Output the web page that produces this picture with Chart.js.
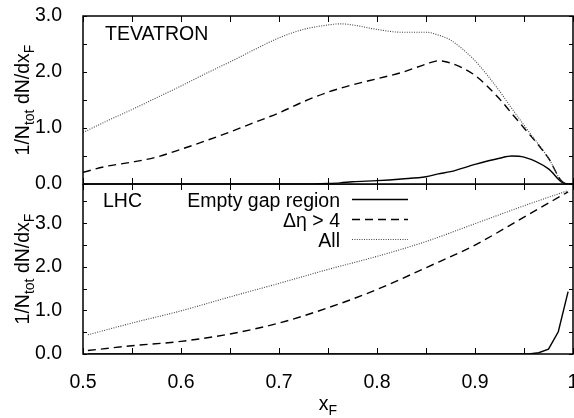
<!DOCTYPE html>
<html><head><meta charset="utf-8">
<script src="https://cdn.jsdelivr.net/npm/chart.js@4.4.1/dist/chart.umd.min.js"></script>
<style>
html,body{margin:0;padding:0;background:#fff;}
#wrap{position:relative;width:574px;height:418px;overflow:hidden;background:#fff;}
canvas{position:absolute;left:0;}
#c1{top:0;}
#c2{top:184px;}
</style></head><body>
<div id="wrap"><canvas id="c1" width="574" height="200"></canvas><canvas id="c2" width="574" height="234"></canvas></div>
<script>
// ---------- data ----------
const seriesNames = ['Empty gap region', 'Δη > 4', 'All'];
const panelNames = ['TEVATRON', 'LHC'];

const xTickMarks = [0.5,0.55,0.6,0.65,0.7,0.75,0.8,0.85,0.9,0.95,1.0];
const xLabelVals = [0.5,0.6,0.7,0.8,0.9,1.0];
const xLabels = ['0.5','0.6','0.7','0.8','0.9','1'];

const tevYTickMarks = [0,0.5,1,1.5,2,2.5,3];
const lhcYTickMarks = [0,0.5,1,1.5,2,2.5,3,3.5];
const yLabelVals = [0,1,2,3];
const yLabels = ['0.0','1.0','2.0','3.0'];

// TEVATRON panel
const tevX    = [0.5,0.525,0.55,0.575,0.6,0.625,0.65,0.675,0.7,0.725,0.75,0.7625,0.775,0.8,0.825,0.85,0.8625,0.875,0.9,0.925,0.9375,0.95,0.975,0.99,1.0];
const tevAll  = [0.92,1.13,1.33,1.54,1.75,1.97,2.18,2.40,2.61,2.76,2.84,2.86,2.84,2.76,2.71,2.71,2.66,2.57,2.20,1.66,1.35,1.05,0.46,0.03,0];
const tevDeta = [0.21,0.32,0.39,0.48,0.62,0.77,0.93,1.10,1.27,1.47,1.64,1.71,1.77,1.88,1.99,2.14,2.20,2.16,1.94,1.52,1.26,1.00,0.46,0.03,0];
const tevGap  = [0,0,0,0,0,0,0,0,0,0,0.01,0.02,0.04,0.06,0.09,0.13,0.18,0.22,0.35,0.46,0.50,0.48,0.27,0.02,0];

// LHC panel
const lhcX    = [0.505,0.55,0.6,0.65,0.7,0.75,0.8,0.85,0.9,0.95,0.995];
const lhcAll  = [0.44,0.71,0.99,1.31,1.62,1.94,2.24,2.58,2.99,3.40,3.75];
const lhcDeta = [0.08,0.19,0.29,0.46,0.71,1.06,1.48,1.98,2.50,3.14,3.72];
const lhcGapX = [0.505,0.955,0.965,0.975,0.985,0.995];
const lhcGap  = [0,0,0.03,0.11,0.51,1.43];

// ---------- helpers ----------
const FAM = "'Liberation Sans', Arial, Helvetica, sans-serif";
const FS = 19.5;
Chart.defaults.font.family = FAM;
Chart.defaults.font.size = FS;
Chart.defaults.color = '#000';

const pts = (xs, ys) => xs.map((x, i) => ({x, y: ys[i]}));
const styles = [
  {borderColor:'#000', borderWidth:1.4, borderDash:[]},
  {borderColor:'#000', borderWidth:1.4, borderDash:[8,5]},
  {borderColor:'#444', borderWidth:1.1, borderDash:[1,1.4]}
];
function ds(label, data, st, tension) {
  return Object.assign({label, data, pointRadius:0, fill:false,
    cubicInterpolationMode: tension ? 'monotone' : 'default', tension: 0}, st);
}

function drawRich(ctx, segs, x, y, size, align) {
  const big = size + 'px ' + FAM, small = (size * 0.72) + 'px ' + FAM;
  let w = 0;
  for (const s of segs) { ctx.font = s.sub ? small : big; w += ctx.measureText(s.t).width; }
  let cx = align === 'center' ? x - w / 2 : x;
  ctx.textAlign = 'left'; ctx.textBaseline = 'alphabetic';
  for (const s of segs) {
    ctx.font = s.sub ? small : big;
    ctx.fillText(s.t, cx, y + (s.sub ? size * 0.26 : 0));
    cx += ctx.measureText(s.t).width;
  }
}
const yTitle = [{t:'1/N'},{t:'tot',sub:true},{t:' dN/dx'},{t:'F',sub:true}];
const xTitle = [{t:'x'},{t:'F',sub:true}];

const deco = {
  id: 'deco',
  afterDraw(chart, args, o) {
    const ctx = chart.ctx, a = chart.chartArea;
    const xs = chart.scales.x, ys = chart.scales.y;
    ctx.save();
    ctx.strokeStyle = '#000'; ctx.fillStyle = '#000';
    ctx.lineWidth = 1; ctx.setLineDash([]);
    ctx.beginPath();
    for (const v of xTickMarks) {
      const px = Math.round(xs.getPixelForValue(v)) + 0.5;
      ctx.moveTo(px, a.bottom); ctx.lineTo(px, a.bottom - 6);
      ctx.moveTo(px, a.top); ctx.lineTo(px, a.top + 6);
    }
    for (const v of o.yTicks) {
      const py = Math.round(ys.getPixelForValue(v)) + 0.5;
      ctx.moveTo(a.left, py); ctx.lineTo(a.left + 4, py);
      ctx.moveTo(a.right, py); ctx.lineTo(a.right - 4, py);
    }
    ctx.stroke();
    ctx.lineWidth = 1.5;
    ctx.strokeRect(a.left, a.top, a.right - a.left, a.bottom - a.top);

    // y-axis title (rotated)
    ctx.save();
    ctx.translate(28.5, (a.top + a.bottom) / 2);
    ctx.rotate(-Math.PI / 2);
    drawRich(ctx, yTitle, 0, 0, FS, 'center');
    ctx.restore();

    // panel label
    ctx.font = FS + 'px ' + FAM; ctx.textAlign = 'left'; ctx.textBaseline = 'alphabetic';
    ctx.fillText(o.panel, a.left + o.panelDx, a.top + o.panelDy);

    if (o.legend) {
      const dsets = chart.data.datasets;
      // legend order: gap, deta, all
      const order = [2, 1, 0];
      order.forEach((di, row) => {
        const d = dsets[di];
        const base = a.top + 23 + row * 20;
        ctx.font = FS + 'px ' + FAM; ctx.textAlign = 'right'; ctx.fillStyle = '#000';
        ctx.fillText(d.label, 340, base);
        ctx.beginPath();
        ctx.strokeStyle = d.borderColor; ctx.lineWidth = d.borderWidth;
        ctx.setLineDash(d.borderDash || []);
        ctx.moveTo(352, base - 7.5); ctx.lineTo(408, base - 7.5);
        ctx.stroke();
        ctx.setLineDash([]);
      });
    }
    if (o.xTitle) {
      ctx.fillStyle = '#000';
      drawRich(ctx, xTitle, (a.left + a.right) / 2, a.bottom + 56, FS, 'center');
    }
    ctx.restore();
  }
};

function yScale(max) {
  return {
    type: 'linear', min: 0, max: max,
    grid: {display: false}, border: {display: false},
    afterBuildTicks: s => { s.ticks = yLabelVals.map(v => ({value: v})); },
    ticks: {padding: 13, callback: (v, i) => yLabels[i]},
    afterFit: s => { s.width = 83; s.paddingTop = 0; s.paddingBottom = 0; }
  };
}

// ---------- TEVATRON chart ----------
new Chart(document.getElementById('c1'), {
  type: 'line',
  data: {datasets: [
    ds(seriesNames[2], pts(tevX, tevAll), styles[2], true),
    ds(seriesNames[1], pts(tevX, tevDeta), styles[1], true),
    ds(seriesNames[0], pts(tevX, tevGap), styles[0], true)
  ]},
  options: {
    responsive: false, animation: false, devicePixelRatio: 1,
    layout: {padding: {top: 16, bottom: 16, left: 0, right: 1}},
    plugins: {legend: {display: false}, tooltip: {enabled: false},
      deco: {yTicks: tevYTickMarks, panel: panelNames[0], panelDx: 22, panelDy: 24, legend: false, xTitle: false}},
    scales: {
      x: {type: 'linear', min: 0.5, max: 1, display: false},
      y: yScale(3.0)
    }
  },
  plugins: [deco]
});

// ---------- LHC chart ----------
new Chart(document.getElementById('c2'), {
  type: 'line',
  data: {datasets: [
    ds(seriesNames[2], pts(lhcX, lhcAll), styles[2], true),
    ds(seriesNames[1], pts(lhcX, lhcDeta), styles[1], true),
    ds(seriesNames[0], pts(lhcGapX, lhcGap), styles[0], false)
  ]},
  options: {
    responsive: false, animation: false, devicePixelRatio: 1,
    layout: {padding: {top: 0, bottom: 0, left: 0, right: 1}},
    plugins: {legend: {display: false}, tooltip: {enabled: false},
      deco: {yTicks: lhcYTickMarks, panel: panelNames[1], panelDx: 20, panelDy: 23, legend: true, xTitle: true}},
    scales: {
      x: {
        type: 'linear', min: 0.5, max: 1,
        grid: {display: false}, border: {display: false},
        afterBuildTicks: s => { s.ticks = xLabelVals.map(v => ({value: v})); },
        ticks: {padding: 9, maxRotation: 0, autoSkip: false, callback: (v, i) => xLabels[i]},
        afterFit: s => { s.height = 64; s.paddingLeft = 0; s.paddingRight = 0; }
      },
      y: yScale(3.9)
    }
  },
  plugins: [deco]
});
</script>
</body></html>
